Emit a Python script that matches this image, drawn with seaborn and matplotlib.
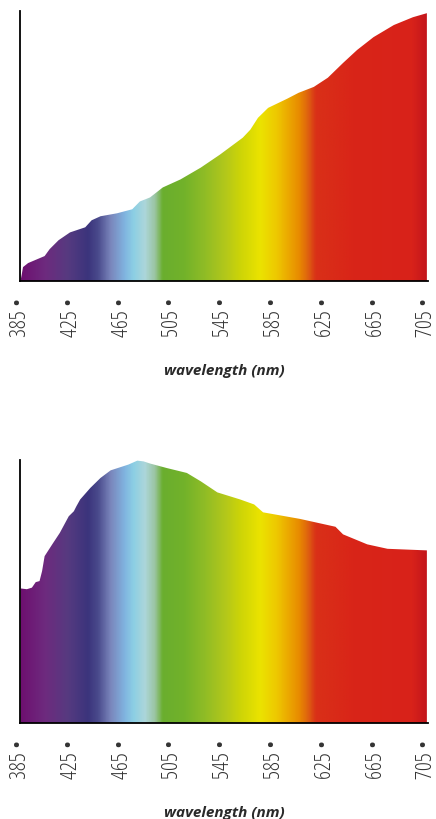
import numpy as np
import matplotlib
matplotlib.use("Agg")
import matplotlib.pyplot as plt
import seaborn as sns
from matplotlib.colors import LinearSegmentedColormap

# spectrum curves (relative intensity, 0-100)
top_nm = [385, 386, 387, 391, 404, 408, 415, 424, 436, 441, 448, 461, 473, 479, 487, 497,
          511, 527, 542, 560, 566, 572, 580, 595, 604, 616, 627, 639, 650, 663, 679, 694, 705]
top_val = [0, 2.5, 5.2, 6.7, 9.3, 11.9, 15.2, 18.1, 20, 22.6, 24.1, 25.2, 26.7, 29.6, 31.1, 34.8,
           37.8, 42.2, 47, 53.3, 56.3, 60.7, 64.4, 67.8, 70, 72.2, 75.6, 81.1, 85.9, 90.7, 95.2, 98.1, 99.6]

bot_nm = [385, 390, 394, 397, 400, 402, 404, 410, 416, 423, 427, 429, 432, 440, 448, 456, 470,
          477, 482, 487, 500, 516, 527, 540, 558, 569, 576, 605, 633, 639, 658, 674, 705]
bot_val = [51.3, 51, 51.6, 53.7, 54.1, 57.9, 63.6, 68.1, 72.5, 78.8, 80.7, 82.6, 85.2, 89.6, 93.4,
           96.3, 98.5, 100, 99.7, 98.9, 97.2, 95.3, 92.1, 87.9, 85.2, 83.3, 80.3, 77.8, 74.8, 71.9,
           68.1, 66.4, 65.8]

tick_nm = [385, 425, 465, 505, 545, 585, 625, 665, 705]

# colour of the visible spectrum at a given wavelength
spec_nm = [385, 404, 422, 438, 446, 456, 467, 474, 483, 491, 497, 514, 530, 547, 558, 574,
           587, 597, 605, 612, 618, 647, 694, 705]
spec_col = ["#6d1070", "#6e2a7e", "#563a80", "#3b347c", "#4a4a8c", "#7a86bc", "#80b4e0",
            "#8ccfe4", "#acd6da", "#9ac4a0", "#6aae2e", "#72b22a", "#8fbc26", "#b4c81a",
            "#ccd408", "#ebe300", "#eec800", "#eba600", "#e88a00", "#de6010", "#d93018",
            "#d92518", "#d8221a", "#c4161c"]

X_MIN, X_MAX = 385, 706

sns.set_theme(style="white")
plt.rcParams["font.family"] = ["Open Sans", "DejaVu Sans"]

pos = [(n - spec_nm[0]) / (spec_nm[-1] - spec_nm[0]) for n in spec_nm]
cmap = LinearSegmentedColormap.from_list("spectrum", list(zip(pos, spec_col)))


def spectrum_panel(ax, nm, val, label_y):
    sns.lineplot(x=nm, y=val, ax=ax, linewidth=0)
    poly = ax.fill_between(nm, val, 0, color="none", linewidth=0)
    grad = np.linspace(spec_nm[0], spec_nm[-1], 1200).reshape(1, -1)
    im = ax.imshow(grad, extent=[nm[0], nm[-1], 0, max(val)], aspect="auto", cmap=cmap,
                   vmin=spec_nm[0], vmax=spec_nm[-1], origin="lower", interpolation="bilinear")
    im.set_clip_path(poly.get_paths()[0], ax.transData)

    ax.set_xlim(X_MIN, X_MAX)
    ax.set_ylim(0, 100.3)
    ax.set_yticks([])
    ax.set_xticks(tick_nm)
    ax.set_xticklabels([f"{t} •" for t in tick_nm], rotation=90, fontsize=16,
                       fontstretch="condensed", fontweight="light",
                       color="#333333", va="top", ha="center")
    ax.tick_params(axis="x", length=0, pad=11)
    for s in ["top", "right"]:
        ax.spines[s].set_visible(False)
    for s in ["left", "bottom"]:
        ax.spines[s].set_color("black")
        ax.spines[s].set_linewidth(1.3)
    ax.set_xlabel("wavelength (nm)", fontsize=11, fontweight="bold", fontstyle="italic",
                  color="#2a2a2a")
    ax.xaxis.set_label_coords(0.5, label_y)


fig = plt.figure(figsize=(4.36, 8.2), dpi=100)
ax1 = fig.add_axes([0.047, 0.656, 0.935, 0.329])
ax2 = fig.add_axes([0.047, 0.117, 0.935, 0.321])

spectrum_panel(ax1, top_nm, top_val, -0.305)
spectrum_panel(ax2, bot_nm, bot_val, -0.31)

fig.savefig("out.png", dpi=100)
